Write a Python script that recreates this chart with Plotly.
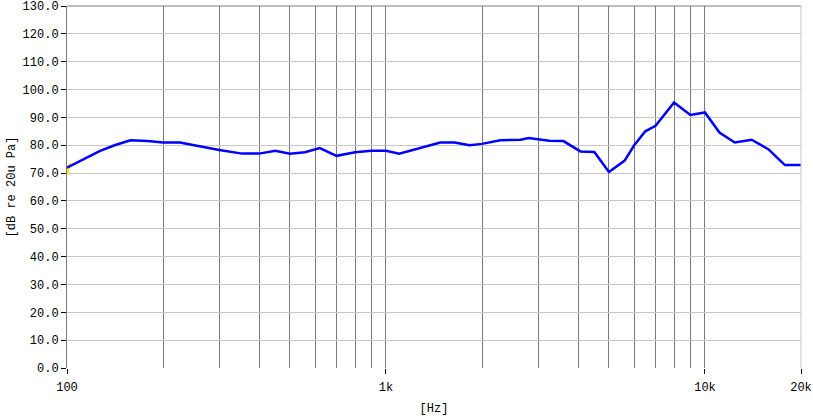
import numpy as np
import plotly.graph_objects as go

freq_hz = [100, 118, 127, 141, 158, 179, 200, 226, 261, 300, 354, 400, 450, 500, 557, 620,
           700, 800, 900, 1000, 1100, 1280, 1480, 1640, 1830, 2000, 2280, 2640, 2800, 3250,
           3600, 4070, 4500, 5000, 5600, 6000, 6500, 7000, 8000, 9000, 10000, 11100, 12400,
           14000, 15800, 17800, 20000]
level_db = [72, 76, 78, 80, 81.8, 81.5, 81, 81, 79.5, 78.3, 77, 77, 78, 77, 77.5, 79,
            76.2, 77.5, 78, 78, 77, 79, 81, 81, 80, 80.5, 81.8, 82, 82.6, 81.6,
            81.5, 77.8, 77.6, 70.4, 74.5, 80, 85, 87, 95.4, 90.9, 91.8, 84.6, 81,
            82, 78.6, 72.9, 72.9]
yellow_f = [100, 101.5, 103]
yellow_db = [69.5, 72.5, 73.5]

y_ticks = [i * 10 for i in range(14)]
y_tick_text = [f"{v:.1f}" for v in y_ticks]
x_major = [100, 1000, 10000, 20000]
x_major_text = ["100", "1k", "10k", "20k"]
x_minor = [200, 300, 400, 500, 600, 700, 800, 900, 1000,
           2000, 3000, 4000, 5000, 6000, 7000, 8000, 9000, 10000]

FONT = "Liberation Mono"
DARK = "#7a7a7a"
LIGHT = "#c8c8c8"

fig = go.Figure()
fig.add_trace(go.Scatter(x=yellow_f, y=yellow_db, mode="lines",
                         line=dict(color="#ffee00", width=2.5), showlegend=False))
fig.add_trace(go.Scatter(x=freq_hz, y=level_db, mode="lines",
                         line=dict(color="#0000ff", width=2.5), showlegend=False))

fig.update_layout(
    width=813, height=419,
    margin=dict(l=67, r=12, t=6, b=51),
    paper_bgcolor="white", plot_bgcolor="white",
    font=dict(family=FONT, size=12, color="black"),
    xaxis=dict(type="log", range=[2, np.log10(20000)], automargin=False,
               tickmode="array", tickvals=x_major, ticktext=x_major_text,
               ticks="outside", ticklen=5, tickcolor="black", tickwidth=1,
               ticklabelstandoff=3, ticklabeloverflow="allow",
               showgrid=False, zeroline=False, showline=False,
               minor=dict(tickmode="array", tickvals=x_minor, showgrid=True,
                          gridcolor=DARK, gridwidth=1, ticks=""),
               title=dict(text="[Hz]", standoff=9, font=dict(family=FONT, size=12))),
    yaxis=dict(range=[0, 130.02], tickmode="array", tickvals=y_ticks, ticktext=y_tick_text,
               automargin=False, ticklabeloverflow="allow",
               ticks="outside", ticklen=5, tickcolor="black", tickwidth=1,
               showgrid=True, gridcolor=LIGHT, gridwidth=1, zeroline=False,
               showline=True, linecolor=DARK, linewidth=1,
               title=dict(text="[dB re 20u Pa]", standoff=4, font=dict(family=FONT, size=12))),
    shapes=[
        dict(type="line", xref="paper", yref="paper", x0=0, x1=1, y0=1, y1=1,
             line=dict(color=DARK, width=1)),
        dict(type="line", xref="paper", yref="paper", x0=1, x1=1, y0=0, y1=1,
             line=dict(color=LIGHT, width=1)),
    ],
)

fig.write_html("out.html", config={"displayModeBar": False},
               post_script="document.body.style.margin='0';document.body.style.overflow='hidden';")
